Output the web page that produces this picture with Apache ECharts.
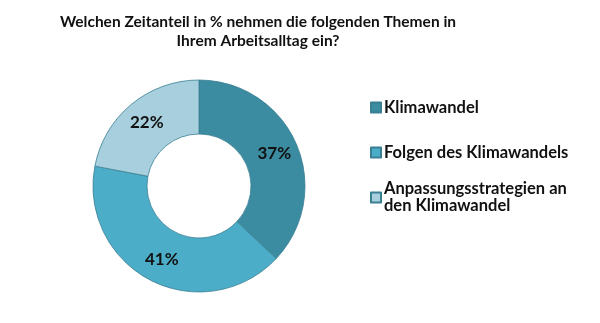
<!DOCTYPE html>
<html><head><meta charset="utf-8">
<script src="https://cdn.jsdelivr.net/npm/echarts@6/dist/echarts.min.js"></script>
<style>html,body{margin:0;padding:0;background:#fff}#c{width:600px;height:323px}</style>
</head><body><div id="c"></div>
<script>
const titleText = 'Welchen Zeitanteil in % nehmen die folgenden Themen in\nIhrem Arbeitsalltag ein?';
const categories = ['Klimawandel', 'Folgen des Klimawandels', 'Anpassungsstrategien an den Klimawandel'];
const legendLabels = ['Klimawandel', 'Folgen des Klimawandels', 'Anpassungsstrategien an\nden Klimawandel'];
const values = [37, 41, 22];
const colors = ['#3b8ba1', '#4badc7', '#a8cfdd'];

const FONT = 'Lato';
const chart = echarts.init(document.getElementById('c'), null, {renderer: 'canvas'});
chart.setOption({
  animation: false,
  title: {
    text: titleText, left: 253, top: 7, textAlign: 'center',
    textStyle: {fontFamily: FONT, fontWeight: 'bold', fontSize: 15.5, color: '#111', lineHeight: 19}
  },
  legend: {
    orient: 'vertical', left: 365, top: 77,
    itemWidth: 10, itemHeight: 10, itemGap: -6,
    icon: 'rect',
    data: categories.map((n, i) => ({name: n, textStyle: {padding: i === 2 ? [17, 0, 0, -2] : [17, 0, 17, -2]}})),
    formatter: name => legendLabels[categories.indexOf(name)],
    textStyle: {fontFamily: FONT, fontWeight: 'bold', fontSize: 16.5, color: '#111', lineHeight: 17}
  },
  series: [{
    type: 'pie', center: [199, 186], radius: [52, 106],
    startAngle: 90, clockwise: true, avoidLabelOverlap: false,
    itemStyle: {borderColor: '#3a7f93', borderWidth: 0.8},
    label: {position: 'inside', formatter: '{c}%', fontFamily: FONT, fontWeight: 'bold', fontSize: 17, color: '#111'},
    labelLine: {show: false},
    data: categories.map((n, i) => ({name: n, value: values[i], itemStyle: {color: colors[i]}}))
  }]
});
</script></body></html>
